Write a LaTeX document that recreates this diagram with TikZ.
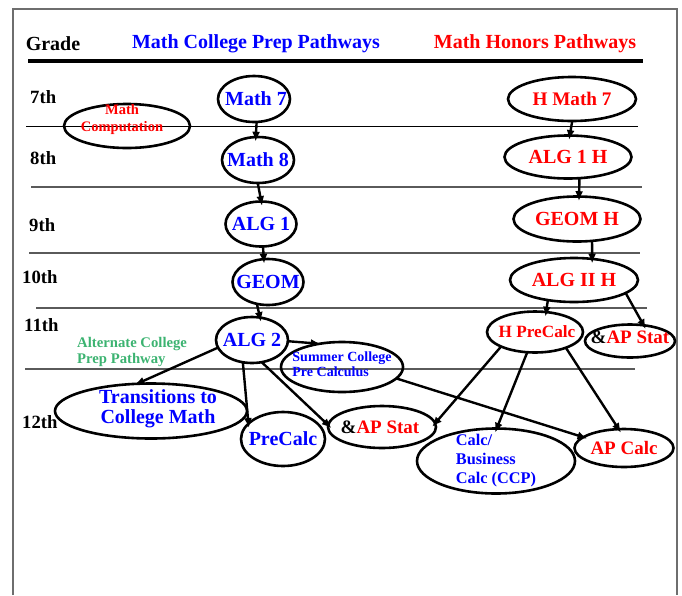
\documentclass[tikz,border=0pt]{standalone}
\usepackage{fontspec}
\setmainfont{Liberation Serif}
\usetikzlibrary{shapes.geometric,arrows.meta}
\definecolor{prepblue}{RGB}{0,0,255}
\definecolor{honred}{RGB}{255,0,0}
\definecolor{altgreen}{RGB}{60,179,113}
\definecolor{rulegray}{RGB}{90,90,90}
\definecolor{framegray}{RGB}{110,110,110}
\tikzset{
  oval/.style={draw, ellipse, line width=2.6pt, inner sep=0pt},
  bigtext/.style={font=\fontsize{20}{20}\selectfont\bfseries},
  prep/.style={bigtext, text=prepblue},
  hon/.style={bigtext, text=honred},
  grade/.style={anchor=west, inner sep=0pt, font=\fontsize{18.7}{20}\selectfont\bfseries},
  flow/.style={->, line width=2.4pt, shorten >=-6pt, shorten <=-2pt},
}
\begin{document}
\begin{tikzpicture}[x=1pt, y=-1pt, >={Latex[length=10pt,width=8pt]}]
  \useasboundingbox (0,0) rectangle (682,595);
  % Rahmen
  \draw[framegray, line width=2pt] (13,595) -- (13,9) -- (677,9) -- (677,595);
  % Kopfzeile
  \node[bigtext] (gradehead) at (53,44) {Grade};
  \node[prep] (prephead) at (256,44) {Math College Prep Pathways};
  \node[hon] (honhead) at (535,44) {Math Honors Pathways};
  \draw[line width=3.5pt] (28,61) -- (643,61);
  % Trennlinien der Jahrgaenge
  \draw[line width=1pt] (26,126) -- (638,126);
  \draw[rulegray, line width=1.2pt] (31,187) -- (642,187);
  \draw[rulegray, line width=1.2pt] (29,253) -- (640,253);
  \draw[rulegray, line width=1.2pt] (36,308) -- (647,308);
  \draw[rulegray, line width=1.2pt] (25,369) -- (635,369);
  % Jahrgaenge
  \node[grade] (g7) at (30,97) {7th};
  \node[grade] (g8) at (30,158) {8th};
  \node[grade] (g9) at (29,225) {9th};
  \node[grade] (g10) at (22,277) {10th};
  \node[grade] (g11) at (24,325) {11th};
  \node[grade] (g12) at (22,422) {12th};
  \node[anchor=west, inner sep=0pt, font=\fontsize{14.7}{16}\selectfont\bfseries, text=altgreen, align=left] (alt) at (77,352) {Alternate College\\Prep Pathway};
  % College Prep
  \node[oval, minimum width=72pt, minimum height=46pt, label={[prep, xshift=2pt]center:Math 7}] (m7) at (254,99) {};
  \node[oval, minimum width=126pt, minimum height=44pt, label={[font=\fontsize{14.5}{17}\selectfont\bfseries, text=honred, align=center, xshift=-5pt, yshift=6.5pt]center:Math\\Computation}] (comp) at (127,126) {};
  \node[oval, minimum width=72pt, minimum height=46pt, label={[prep]center:Math 8}] (m8) at (258,160) {};
  \node[oval, minimum width=71pt, minimum height=45pt, label={[prep]center:ALG 1}] (alg1) at (261,224) {};
  \node[oval, minimum width=71pt, minimum height=46pt, label={[prep]center:GEOM}] (geom) at (268,282) {};
  \node[oval, minimum width=72pt, minimum height=46pt, label={[prep]center:ALG 2}] (alg2) at (252,340) {};
  \node[oval, minimum width=122pt, minimum height=50pt, label={[font=\fontsize{14}{15}\selectfont\bfseries, text=prepblue, align=left, yshift=2.5pt]center:Summer College\\Pre Calculus}] (summer) at (342,367) {};
  \node[oval, minimum width=192pt, minimum height=55pt, label={[prep, align=center, xshift=7pt, yshift=2pt]center:Transitions to\\College Math}] (trans) at (151,411) {};
  \node[oval, minimum width=84pt, minimum height=54pt, label={[prep]center:PreCalc}] (pre) at (283,439) {};
  \node[oval, minimum width=108pt, minimum height=42pt, label={[font=\fontsize{19}{20}\selectfont\bfseries, text=honred, xshift=-2pt]center:\textcolor{black}{\&}AP Stat}] (stat1) at (382,427) {};
  \node[oval, minimum width=158pt, minimum height=65pt, label={[font=\fontsize{16.3}{19}\selectfont\bfseries, text=prepblue, align=left]center:Calc/\\Business\\Calc (CCP)}] (calc) at (496,461) {};
  % Honors
  \node[oval, minimum width=128pt, minimum height=44pt, label={[font=\fontsize{19.2}{20}\selectfont\bfseries, text=honred]center:H Math 7}] (hm7) at (572,99) {};
  \node[oval, minimum width=127pt, minimum height=43pt, label={[hon]center:ALG 1 H}] (alg1h) at (568,157) {};
  \node[oval, minimum width=127pt, minimum height=45pt, label={[hon]center:GEOM H}] (geomh) at (577,219) {};
  \node[oval, minimum width=128pt, minimum height=44pt, label={[hon]center:ALG II H}] (alg2h) at (574,280) {};
  \node[oval, minimum width=96pt, minimum height=41pt, label={[font=\fontsize{17.2}{18}\selectfont\bfseries, text=honred, xshift=2pt]center:H PreCalc}] (hpre) at (535,332) {};
  \node[oval, minimum width=90pt, minimum height=33pt, label={[font=\fontsize{19}{20}\selectfont\bfseries, text=honred, yshift=4pt]center:\textcolor{black}{\&}AP Stat}] (stat2) at (630,341) {};
  \node[oval, minimum width=99pt, minimum height=38pt, label={[font=\fontsize{19}{20}\selectfont\bfseries, text=honred]center:AP Calc}] (apcalc) at (624,448) {};
  % Pfeile
  \draw[flow] (m7.-84) -- (m8.95);
  \draw[flow] (m8.south) -- (alg1.north);
  \draw[flow] (alg1.-85) -- (geom.100);
  \draw[flow] (geom.-115) -- (alg2.72);
  \draw[flow] (alg2.193) -- (trans.111);
  \draw[flow] (alg2.-111) -- (pre.154);
  \draw[flow] (alg2.-65) -- (stat1.177);
  \draw[flow] (alg2.-2) -- (summer.139);
  \draw[flow] (summer.-12) -- (apcalc.165);
  \draw[flow] (hpre.-156) -- (stat1.5);
  \draw[flow] (hpre.-111) -- (calc.88);
  \draw[flow] (hpre.-28) -- (apcalc.107);
  \draw[flow] (alg2h.-141) -- (hpre.62);
  \draw[flow] (alg2h.-15) -- (stat2.53);
  \draw[flow] (hm7.south) -- (alg1h.85);
  \draw[flow] (alg1h.-63) -- (geomh.85);
  \draw[flow] (geomh.-57) -- (alg2h.51);
\end{tikzpicture}
\end{document}
